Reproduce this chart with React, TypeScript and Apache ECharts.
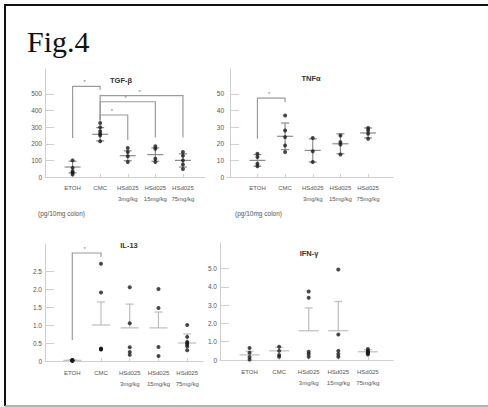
import React, { useEffect, useRef } from 'react';
import * as echarts from 'echarts';

// ---------- data ----------
const groups = ['ETOH', 'CMC', 'HSd025\n3mg/kg', 'HSd025\n15mg/kg', 'HSd025\n75mg/kg'];
const groupPos = [1, 2, 3, 4, 5];

const tgfTitle = 'TGF-β';
const tgfValues = [
  [100, 55, 35, 25, 15],
  [325, 300, 275, 260, 250, 215],
  [175, 150, 125, 90],
  [185, 170, 110, 90],
  [150, 128, 100, 75, 48],
];
const tgfMean = [60, 257, 128, 135, 100];
const tgfSd = [35, 40, 30, 40, 40];
const tgfTicks = [0, 100, 200, 300, 400, 500];
// [groupA, groupB, bracket level, end of A leg, end of B leg]
const tgfBrackets = [
  [1, 2, 545, 235, 525],
  [2, 3, 373, 340, 222],
  [2, 4, 453, 340, 237],
  [2, 5, 490, 340, 237],
];

const tnfTitle = 'TNFα';
const tnfValues = [
  [14, 12, 8, 6.5],
  [37, 28, 24, 19, 15],
  [23.5, 15.5, 9],
  [25, 21, 19.5, 13.5],
  [29.5, 28, 26, 23],
];
const tnfMean = [10, 24.5, 16, 20, 26.5];
const tnfSd = [3.5, 8, 7, 6, 3];
const tnfTicks = [0, 10, 20, 30, 40, 50];
const tnfBrackets = [[1, 2, 47.5, 23, 45]];

const il13Title = 'IL-13';
const il13Values = [
  [0.03, 0.02, 0.02, 0.01, 0.01, 0.0],
  [2.7, 1.9, 0.35, 0.33, 0.33, 0.32],
  [2.05, 1.05, 0.38, 0.25, 0.17],
  [2.0, 1.47, 0.39, 0.14],
  [1.0, 0.67, 0.53, 0.5, 0.45, 0.4, 0.3],
];
const il13Mean = [0.02, 1.0, 0.92, 0.92, 0.5];
const il13Sd = [0.01, 0.64, 0.66, 0.44, 0.25];
const il13Ticks = [0, 0.5, 1.0, 1.5, 2.0, 2.5];
const il13Brackets = [[1, 2, 3.0, 0.58, 2.89]];

const ifnTitle = 'IFN-γ';
const ifnValues = [
  [0.66, 0.4, 0.16, 0.02],
  [0.73, 0.5, 0.27, 0.18],
  [3.75, 3.4, 0.45, 0.33, 0.18],
  [4.95, 1.4, 0.5, 0.33, 0.18],
  [0.6, 0.5, 0.45, 0.4, 0.35, 0.3],
];
const ifnMean = [0.28, 0.5, 1.6, 1.6, 0.45];
const ifnSd = [0.2, 0.2, 1.25, 1.6, 0.12];
const ifnTicks = [0, 1.0, 2.0, 3.0, 4.0, 5.0];

const unitLabel = '(pg/10mg colon)';
const figLabel = 'Fig.4';

// ---------- layout ----------
const FONT = "'Liberation Sans Narrow', 'Liberation Sans', Arial, sans-serif";

type Panel = {
  title: string; titleX: number; titleY: number;
  values: number[][]; mean: number[]; sd: number[]; ticks: number[];
  brackets: number[][]; upOnly: boolean; halfW: number; statColor: string;
  grid: { left: number; top: number; width: number; height: number };
  xMin: number; xMax: number; yMax: number; labelMargin: number;
  fmt: (v: number) => string;
};

const fmtInt = (v: number) => String(v);
const fmtDec = (v: number) => (v === 0 ? '0' : v.toFixed(1));

const panels: Panel[] = [
  {
    title: tgfTitle, titleX: 121, titleY: 76, values: tgfValues, mean: tgfMean, sd: tgfSd,
    ticks: tgfTicks, brackets: tgfBrackets, upOnly: false, halfW: 8, statColor: '#8a8a8a',
    grid: { left: 45, top: 69, width: 160, height: 108 }, xMin: 0, xMax: 5.8, yMax: 650,
    labelMargin: 5, fmt: fmtInt,
  },
  {
    title: tnfTitle, titleX: 311, titleY: 74, values: tnfValues, mean: tnfMean, sd: tnfSd,
    ticks: tnfTicks, brackets: tnfBrackets, upOnly: false, halfW: 8, statColor: '#8a8a8a',
    grid: { left: 227, top: 69, width: 166, height: 108 }, xMin: -0.1, xMax: 5.9, yMax: 65,
    labelMargin: 5, fmt: fmtInt,
  },
  {
    title: il13Title, titleX: 129, titleY: 241, values: il13Values, mean: il13Mean, sd: il13Sd,
    ticks: il13Ticks, brackets: il13Brackets, upOnly: true, halfW: 9, statColor: '#bdbdbd',
    grid: { left: 45, top: 244, width: 158, height: 117 }, xMin: 0.05, xMax: 5.55, yMax: 3.25,
    labelMargin: 6, fmt: fmtDec,
  },
  {
    title: ifnTitle, titleX: 309, titleY: 249, values: ifnValues, mean: ifnMean, sd: ifnSd,
    ticks: ifnTicks, brackets: [], upOnly: true, halfW: 10, statColor: '#bdbdbd',
    grid: { left: 220, top: 243, width: 173, height: 117 }, xMin: 0, xMax: 5.85, yMax: 6.4,
    labelMargin: 6, fmt: fmtDec,
  },
];

function statsRender(halfW: number, upOnly: boolean, color: string) {
  return (_params: any, api: any) => {
    const x = api.value(0);
    const m = api.value(1);
    const e = api.value(2);
    const c = api.coord([x, m]);
    const top = api.coord([x, m + e]);
    const bot = api.coord([x, upOnly ? m : m - e]);
    const cap = 4;
    const st = { stroke: color, lineWidth: 1.2 };
    const children: any[] = [
      { type: 'line', shape: { x1: c[0] - halfW, y1: c[1], x2: c[0] + halfW, y2: c[1] }, style: st },
      { type: 'line', shape: { x1: c[0], y1: top[1], x2: c[0], y2: bot[1] }, style: st },
      { type: 'line', shape: { x1: c[0] - cap, y1: top[1], x2: c[0] + cap, y2: top[1] }, style: st },
    ];
    if (!upOnly) {
      children.push({ type: 'line', shape: { x1: c[0] - cap, y1: bot[1], x2: c[0] + cap, y2: bot[1] }, style: st });
    }
    return { type: 'group', children };
  };
}

function bracketRender(_params: any, api: any) {
  const a = api.value(0);
  const b = api.value(1);
  const lv = api.value(2);
  const ae = api.value(3);
  const be = api.value(4);
  const p1 = api.coord([a, ae]);
  const p2 = api.coord([a, lv]);
  const p3 = api.coord([b, lv]);
  const p4 = api.coord([b, be]);
  return {
    type: 'group',
    children: [
      {
        type: 'polyline',
        shape: { points: [p1, p2, p3, p4] },
        style: { stroke: '#9a9a9a', fill: null, lineWidth: 1.2 },
      },
      {
        type: 'text',
        style: {
          text: '*', x: (p2[0] + p3[0]) / 2 - 2, y: p2[1] - 1, align: 'center', verticalAlign: 'bottom',
          fontSize: 6, fill: '#777', fontFamily: FONT,
        },
      },
    ],
  };
}

function buildOption() {
  const grid: any[] = [];
  const xAxis: any[] = [];
  const yAxis: any[] = [];
  const series: any[] = [];
  const title: any[] = [];

  panels.forEach((p, i) => {
    grid.push({ ...p.grid, containLabel: false, outerBoundsMode: 'none' });
    title.push({
      text: p.title, left: p.titleX, top: p.titleY, textAlign: 'center', padding: 0,
      textStyle: { fontSize: 7.5, fontWeight: 'bold', color: '#333', fontFamily: FONT },
    });
    xAxis.push({
      gridIndex: i, type: 'value', min: p.xMin, max: p.xMax,
      axisLine: { show: true, lineStyle: { color: '#cfcfcf', width: 1 } },
      axisTick: { show: true, inside: true, length: 3, customValues: groupPos, lineStyle: { color: '#cfcfcf' } },
      axisLabel: {
        customValues: groupPos, formatter: (v: number) => groups[Math.round(v) - 1] ?? '',
        fontSize: 6, lineHeight: 11, color: '#555', margin: p.labelMargin, fontFamily: FONT,
      },
      splitLine: { show: false },
    });
    yAxis.push({
      gridIndex: i, type: 'value', min: 0, max: p.yMax,
      axisLine: { show: true, lineStyle: { color: '#cfcfcf', width: 1 } },
      axisTick: { show: true, inside: true, length: 9, customValues: p.ticks, lineStyle: { color: '#cfcfcf' } },
      axisLabel: {
        customValues: p.ticks, formatter: p.fmt, fontSize: 6.5, color: '#555', margin: 3, fontFamily: FONT,
      },
      splitLine: { show: false },
    });
    series.push({
      type: 'custom', xAxisIndex: i, yAxisIndex: i, clip: false,
      renderItem: statsRender(p.halfW, p.upOnly, p.statColor),
      data: p.mean.map((m, g) => [groupPos[g], m, p.sd[g]]),
      z: 2,
    });
    const pts: number[][] = [];
    p.values.forEach((vals, g) => vals.forEach((v) => pts.push([groupPos[g], v])));
    series.push({
      type: 'scatter', xAxisIndex: i, yAxisIndex: i, data: pts,
      symbol: 'circle', symbolSize: 4, itemStyle: { color: '#1a1a1a' }, z: 3,
    });
    if (p.brackets.length) {
      series.push({
        type: 'custom', xAxisIndex: i, yAxisIndex: i, clip: false,
        renderItem: bracketRender, data: p.brackets, z: 1,
      });
    }
  });

  const graphic: any[] = [
    { type: 'line', shape: { x1: 4, y1: 5, x2: 488, y2: 5 }, style: { stroke: '#111', lineWidth: 2 } },
    { type: 'line', shape: { x1: 5, y1: 4, x2: 5, y2: 406 }, style: { stroke: '#111', lineWidth: 2 } },
    { type: 'line', shape: { x1: 5, y1: 406, x2: 488, y2: 406 }, style: { stroke: '#9a9a9a', lineWidth: 1.5 } },
    {
      type: 'text', x: 27, y: 26,
      style: { text: figLabel, fontSize: 30, fontFamily: "'Liberation Serif', 'Times New Roman', serif", fill: '#111', verticalAlign: 'top' },
    },
    {
      type: 'text', x: 38, y: 213,
      style: { text: unitLabel, fontSize: 6.5, fontFamily: FONT, fill: '#555555', verticalAlign: 'middle' },
    },
    {
      type: 'text', x: 235, y: 213,
      style: { text: unitLabel, fontSize: 6.5, fontFamily: FONT, fill: '#555555', verticalAlign: 'middle' },
    },
  ];

  return {
    animation: false,
    backgroundColor: '#ffffff',
    title, grid, xAxis, yAxis, series, graphic,
  };
}

export default function App() {
  const ref = useRef<HTMLDivElement>(null);
  useEffect(() => {
    document.body.style.margin = '0';
    if (!ref.current) return;
    const chart = echarts.init(ref.current, null, { renderer: 'svg' });
    chart.setOption(buildOption() as any);
    return () => chart.dispose();
  }, []);
  return (
    <div
      ref={ref}
      style={{ position: 'absolute', left: 0, top: 0, width: 488, height: 407, background: '#fff' }}
    />
  );
}
